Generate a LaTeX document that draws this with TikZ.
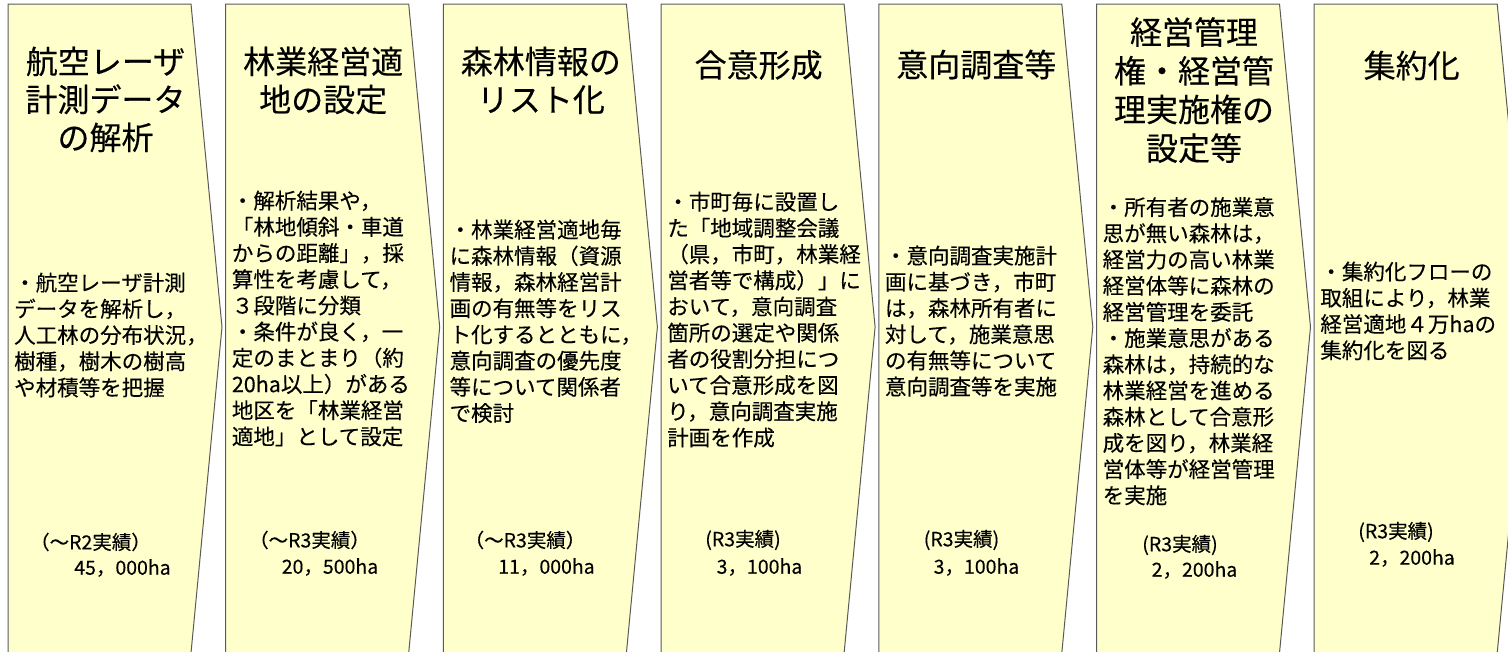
\documentclass[tikz,border=0pt]{standalone}
\usepackage{fontspec}
\setmainfont{Noto Sans CJK JP}[FakeBold=0.25]
\definecolor{chevfill}{HTML}{FFFFCC}
\definecolor{chevline}{HTML}{5A5A5A}
\begin{document}
\begin{tikzpicture}[x=1pt,y=-1pt,
  chev/.style={draw=chevline, fill=chevfill, line width=1pt, line join=miter},
  ttl/.style={font=\fontsize{32}{38}\selectfont, align=center, inner sep=0pt, anchor=north},
  bdy/.style={font=\fontsize{21.5}{26.2}\selectfont, align=left, inner sep=0pt, anchor=north west},
  lbl/.style={font=\fontsize{19.5}{22}\selectfont, inner sep=0pt, anchor=center}]
\useasboundingbox (0,0) rectangle (1508,651);
\clip (0,0) rectangle (1508,651);
\foreach \i in {0,...,6}{
  \pgfmathsetmacro\L{8+217.7*\i}
  \draw[chev] (\L,4) -- ++(183,0) -- ++(31,323) -- ++(-31,326) -- ++(-183,0) -- cycle;
}
% titles
\node[ttl] (t1) at (105.5,46.5) {航空レーザ\\計測データ\\の解析};
\node[ttl] (t2) at (323.2,46.5) {林業経営適\\地の設定};
\node[ttl] (t3) at (540.9,46.5) {森林情報の\\リスト化};
\node[ttl] (t4) at (758.6,50) {合意形成};
\node[ttl] (t5) at (976.3,49.5) {意向調査等};
\node[ttl, font=\fontsize{32}{38.7}\selectfont] (t6) at (1194,17) {経営管理\\権・経営管\\理実施権の\\設定等};
\node[ttl] (t7) at (1411.7,50.5) {集約化};
% bodies
\node[bdy] (b1) at (14,272.5) {・航空レーザ計測\\データを解析し，\\人工林の分布状況，\\樹種，樹木の樹高\\や材積等を把握};
\node[bdy] (b2) at (231.7,190.5) {・解析結果や，\\「林地傾斜・車道\\からの距離」，採\\算性を考慮して，\\３段階に分類\\・条件が良く，一\\定のまとまり（約\\20ha以上）がある\\地区を「林業経営\\適地」として設定};
\node[bdy] (b3) at (449.4,219.5) {・林業経営適地毎\\に森林情報（資源\\情報，森林経営計\\画の有無等をリス\\ト化するとともに，\\意向調査の優先度\\等について関係者\\で検討};
\node[bdy] (b4) at (667.1,191.5) {・市町毎に設置し\\た「地域調整会議\\（県，市町，林業経\\営者等で構成）」に\\おいて，意向調査\\箇所の選定や関係\\者の役割分担につ\\いて合意形成を図\\り，意向調査実施\\計画を作成};
\node[bdy] (b5) at (884.8,245.5) {・意向調査実施計\\画に基づき，市町\\は，森林所有者に\\対して，施業意思\\の有無等について\\意向調査等を実施};
\node[bdy] (b6) at (1102.5,197) {・所有者の施業意\\思が無い森林は，\\経営力の高い林業\\経営体等に森林の\\経営管理を委託\\・施業意思がある\\森林は，持続的な\\林業経営を進める\\森林として合意形\\成を図り，林業経\\営体等が経営管理\\を実施};
\node[bdy] (b7) at (1320.2,261.5) {・集約化フローの\\取組により，林業\\経営適地４万haの\\集約化を図る};
% results
\node[lbl] (r1a) at (90.5,542) {（～R2実績）};
\node[lbl] (r1b) at (122.5,568) {45，000ha};
\node[lbl] (r2a) at (309.5,540) {（～R3実績）};
\node[lbl] (r2b) at (330,567) {20，500ha};
\node[lbl] (r3a) at (525,540) {（～R3実績）};
\node[lbl] (r3b) at (546.5,567) {11，000ha};
\node[lbl] (r4a) at (743,540) {(R3実績)};
\node[lbl] (r4b) at (759.5,567) {3，100ha};
\node[lbl] (r5a) at (961.5,540) {(R3実績)};
\node[lbl] (r5b) at (976.5,567) {3，100ha};
\node[lbl] (r6a) at (1180,545) {(R3実績)};
\node[lbl] (r6b) at (1194.5,570) {2，200ha};
\node[lbl] (r7a) at (1396,532) {(R3実績)};
\node[lbl] (r7b) at (1412,558) {2，200ha};
\end{tikzpicture}
\end{document}
